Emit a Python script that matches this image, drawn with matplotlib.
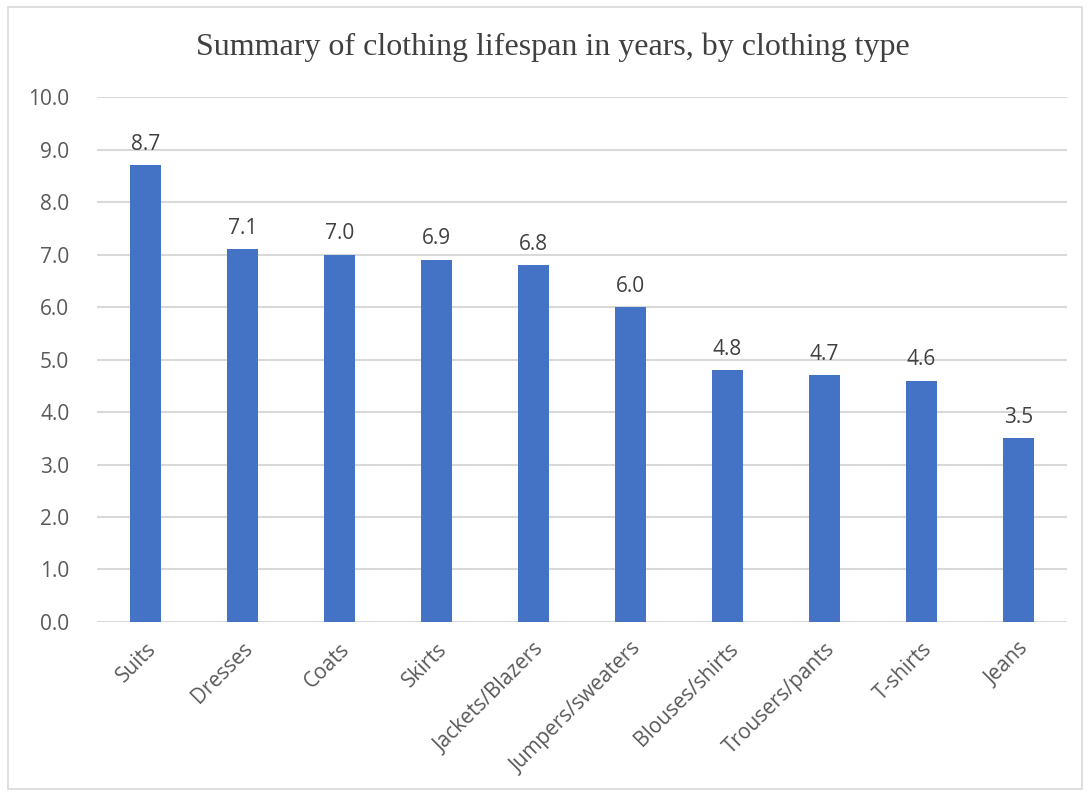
import matplotlib
matplotlib.use('Agg')
import matplotlib.pyplot as plt
from matplotlib.patches import Rectangle

# data
categories = ['Suits', 'Dresses', 'Coats', 'Skirts', 'Jackets/Blazers',
              'Jumpers/sweaters', 'Blouses/shirts', 'Trousers/pants', 'T-shirts', 'Jeans']
lifespan = [8.7, 7.1, 7.0, 6.9, 6.8, 6.0, 4.8, 4.7, 4.6, 3.5]
yticks = [0, 1, 2, 3, 4, 5, 6, 7, 8, 9, 10]

bar_col = '#4472c4'
txt_col = '#595959'
grid_col = '#d9d9d9'

fig = plt.figure(figsize=(10.89, 7.96), dpi=100)
ax = fig.add_axes([0.0891, 0.2186, 0.8907, 0.6595])

x = range(len(categories))
bars = ax.bar(x, lifespan, width=0.31, color=bar_col, zorder=3)
for b, v in zip(bars, lifespan):
    ax.annotate('%.1f' % v, (b.get_x() + b.get_width() / 2, v),
                xytext=(0, 11), textcoords='offset points',
                ha='center', va='baseline', fontsize=15, color='#404040',
                family='Open Sans')

ax.set_xlim(-0.5, len(categories) - 0.5)
ax.set_ylim(0, 10)
ax.set_yticks(yticks)
ax.set_yticklabels(['%.1f' % t for t in yticks], family='Open Sans',
                   fontsize=15, color=txt_col)
ax.set_xticks(list(x))
ax.set_xticklabels(categories, rotation=45, ha='right', rotation_mode='anchor',
                   family='Open Sans', fontsize=15, color=txt_col)
ax.tick_params(axis='both', length=0)
ax.tick_params(axis='y', pad=20)
ax.tick_params(axis='x', pad=12)

ax.grid(axis='y', color=grid_col, lw=1.5, zorder=0)
for s in ax.spines.values():
    s.set_visible(False)

fig.text(0.508, 0.941, 'Summary of clothing lifespan in years, by clothing type',
         ha='center', va='center', fontsize=23, family='Liberation Serif',
         color='#404040')

# light frame around the chart area
fig.patches.append(Rectangle((0.007, 0.009), 0.987, 0.982, transform=fig.transFigure,
                             fill=False, edgecolor='#d9d9d9', lw=1.2))

fig.savefig('out.png', dpi=100)
